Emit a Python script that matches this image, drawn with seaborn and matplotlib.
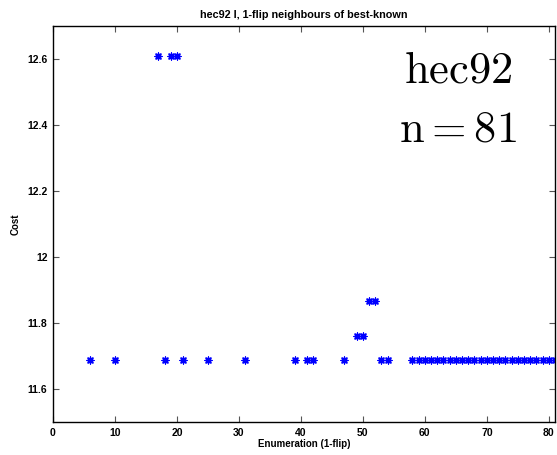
import matplotlib
matplotlib.use("Agg")
import matplotlib.pyplot as plt
import seaborn as sns
import pandas as pd

# ---- data ----
enumeration = [6, 10, 17, 18, 19, 20, 21, 25, 31, 39, 41, 42, 47, 49, 50,
               51, 52, 53, 54, 58, 59, 60, 61, 62, 63, 64, 65, 66, 67, 68,
               69, 70, 71, 72, 73, 74, 75, 76, 77, 78, 79, 80, 81]
cost = [11.688, 11.688, 12.610, 11.688, 12.610, 12.610, 11.688, 11.688,
        11.688, 11.688, 11.688, 11.688, 11.688, 11.760, 11.760,
        11.866, 11.866, 11.688, 11.688, 11.688, 11.688, 11.688, 11.688,
        11.688, 11.688, 11.688, 11.688, 11.688, 11.688, 11.688, 11.688,
        11.688, 11.688, 11.688, 11.688, 11.688, 11.688, 11.688, 11.688,
        11.688, 11.688, 11.688, 11.688]
x_ticks = [0, 10, 20, 30, 40, 50, 60, 70, 80]
y_ticks = [11.6, 11.8, 12.0, 12.2, 12.4, 12.6]
y_tick_labels = ["11.6", "11.8", "12", "12.2", "12.4", "12.6"]
title = "hec92 I, 1-flip neighbours of best-known"
annotation_lines = [r"$\mathrm{hec92}$", r"$\mathrm{n} = 81$"]

df = pd.DataFrame({"Enumeration": enumeration, "Cost": cost})

sns.set_theme(style="white")
plt.rcParams["font.family"] = ["Liberation Sans", "DejaVu Sans"]
plt.rcParams["mathtext.fontset"] = "cm"
plt.rcParams["text.color"] = "black"
plt.rcParams["axes.labelcolor"] = "black"
plt.rcParams["xtick.color"] = "black"
plt.rcParams["ytick.color"] = "black"

fig = plt.figure(figsize=(5.57, 4.55), dpi=100)
ax = fig.add_axes([53 / 557, 1 - 422 / 455, 502 / 557, 396 / 455])

sns.scatterplot(data=df, x="Enumeration", y="Cost", ax=ax,
                marker=(8, 2, 0), s=24, color="#0000ff",
                linewidth=1.0, edgecolor="#0000ff", legend=False)

ax.set_xlim(0, 81)
ax.set_ylim(11.5, 12.7)
ax.set_xticks(x_ticks)
ax.set_xticklabels([str(t) for t in x_ticks])
ax.set_yticks(y_ticks)
ax.set_yticklabels(y_tick_labels)

for lab in ax.get_xticklabels() + ax.get_yticklabels():
    lab.set_fontweight("bold")
    lab.set_fontsize(7.5)
    lab.set_color("black")

ax.tick_params(direction="in", length=4, width=0.8, color="#555555",
               top=True, right=True, bottom=True, left=True, pad=4)

for sp in ax.spines.values():
    sp.set_color("black")
    sp.set_linewidth(1.0)
    sp.set_visible(True)

ax.set_xlabel("Enumeration (1-flip)", fontsize=7, fontweight="bold",
              labelpad=1, color="black")
ax.set_ylabel("Cost", fontsize=7, fontweight="bold", labelpad=5, color="black")
ax.set_title(title, fontsize=7.8, fontweight="bold", pad=6, color="black")

ax.text(65.3, 12.565, annotation_lines[0], fontsize=32, ha="center",
        va="center", color="black")
ax.text(65.3, 12.385, annotation_lines[1], fontsize=32, ha="center",
        va="center", color="black")

fig.savefig("out.png", dpi=100)
